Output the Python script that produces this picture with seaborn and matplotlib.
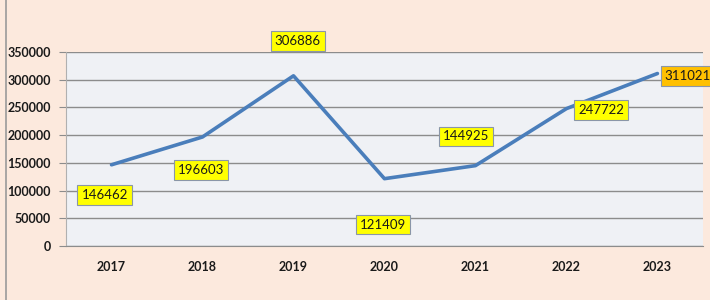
import pandas as pd
import seaborn as sns
import matplotlib.pyplot as plt
from matplotlib.lines import Line2D

# Values
years = ['2017', '2018', '2019', '2020', '2021', '2022', '2023']
counts = [146462, 196603, 306886, 121409, 144925, 247722, 311021]
# label offsets (points) relative to each point
label_dx = [-5, -1, 3, -1, -7, 25, 22]
label_dy = [-22, -24, 25, -33, 21, -1, -2]
label_bg = ['#ffff00'] * 6 + ['#ffc000']

df = pd.DataFrame({'year': years, 'count': counts})

sns.set_style('white')
plt.rcParams['font.family'] = ['Lato', 'DejaVu Sans']

fig = plt.figure(figsize=(7.1, 3.0), dpi=100)
fig.patch.set_facecolor('#fce9dd')
ax = fig.add_axes([0.093, 0.18, 0.897, 0.647])
ax.set_facecolor('#eff1f5')

sns.lineplot(data=df, x='year', y='count', ax=ax, color='#4a7ebb',
             linewidth=2.6, sort=False)

for i, (v, dx, dy, bg) in enumerate(zip(counts, label_dx, label_dy, label_bg)):
    ax.annotate(f'{v}', xy=(i, v), xytext=(dx, dy), textcoords='offset points',
                ha='center', va='center', fontsize=9.5,
                color='#1a1a1a', annotation_clip=False,
                bbox=dict(boxstyle='square,pad=0.3', fc=bg, ec='#8a96a8', lw=0.8))

ax.set_ylim(0, 350000)
ax.set_yticks(range(0, 350001, 50000))
ax.set_xlim(-0.5, 6.5)
ax.set_xticks(range(len(years)))
ax.set_xticks([x - 0.5 for x in range(len(years) + 1)], minor=True)
ax.yaxis.grid(True, color='#8c8c8c', linewidth=1)
ax.set_axisbelow(True)

ax.tick_params(axis='x', which='major', length=0, pad=11, labelsize=9,
               labelcolor='#1a1a1a')
ax.tick_params(axis='x', which='minor', length=4, color='#8c8c8c', direction='out')
ax.tick_params(axis='y', length=5, color='#8c8c8c', direction='out', pad=6,
               labelsize=9, labelcolor='#1a1a1a', left=True)
for lbl in ax.get_xticklabels() + ax.get_yticklabels():
    lbl.set_fontweight('bold')

for s in ['top', 'right']:
    ax.spines[s].set_visible(False)
ax.spines['left'].set_color('#b0b0b0')
ax.spines['bottom'].set_color('#8c8c8c')
ax.set_xlabel('')
ax.set_ylabel('')

fig.add_artist(Line2D([0.009, 0.009], [0, 1], transform=fig.transFigure,
                      color='#9a9a9a', linewidth=1.2))

fig.savefig('out.png', dpi=100, facecolor=fig.get_facecolor())
